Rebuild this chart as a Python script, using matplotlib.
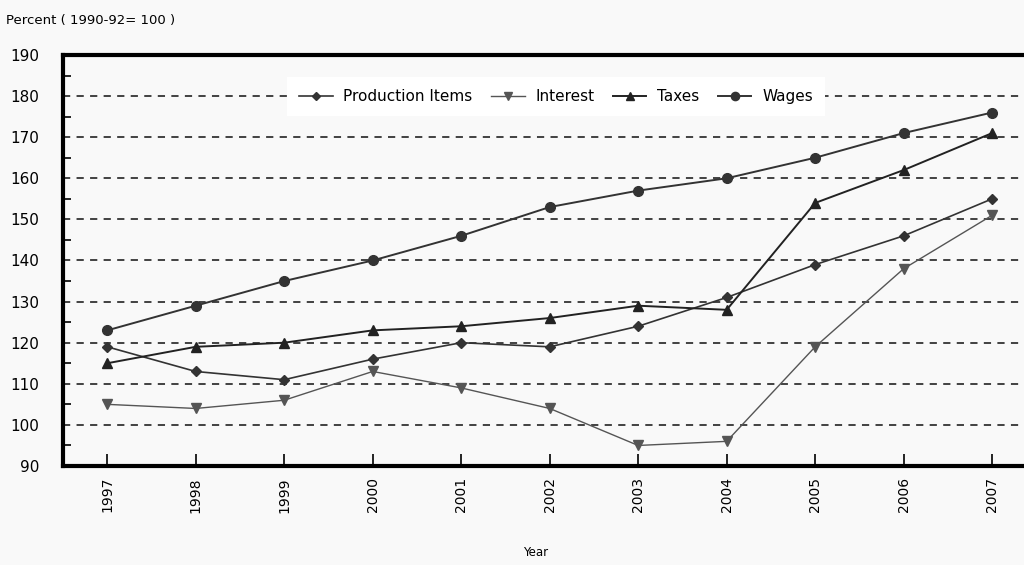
import matplotlib
matplotlib.use("Agg")
import matplotlib.pyplot as plt
from matplotlib.ticker import MultipleLocator

years = [1997, 1998, 1999, 2000, 2001, 2002, 2003, 2004, 2005, 2006, 2007]
production = [119, 113, 111, 116, 120, 119, 124, 131, 139, 146, 155]
interest = [105, 104, 106, 113, 109, 104, 95, 96, 119, 138, 151]
taxes = [115, 119, 120, 123, 124, 126, 129, 128, 154, 162, 171]
wages = [123, 129, 135, 140, 146, 153, 157, 160, 165, 171, 176]

bg = '#f9f9f9'
fig = plt.figure(figsize=(10.24, 5.65), dpi=100, facecolor=bg)
ax = fig.add_axes([0.0615, 0.1752, 0.9385, 0.7275], facecolor=bg)

ax.plot(years, production, color='#333333', lw=1.2, marker='D', ms=5, label='Production Items')
ax.plot(years, interest, color='#555555', lw=1.0, marker='v', ms=7, label='Interest')
ax.plot(years, taxes, color='#222222', lw=1.4, marker='^', ms=7, label='Taxes')
ax.plot(years, wages, color='#333333', lw=1.4, marker='o', ms=7, label='Wages')

ax.set_xlim(1996.5, 2007.36)
ax.set_ylim(90, 190)
ax.set_xticks(years)
ax.set_xticklabels([str(y) for y in years], rotation=90, fontsize=10)
ax.yaxis.set_major_locator(MultipleLocator(10))
ax.yaxis.set_minor_locator(MultipleLocator(5))
ax.tick_params(axis='y', which='major', direction='in', length=0, labelsize=11, pad=17)
ax.tick_params(axis='y', which='minor', direction='in', length=6, width=1.2)
ax.tick_params(axis='x', direction='in', length=9, width=1.2, pad=8)
for y in range(100, 190, 10):
    ax.axhline(y, color='#333333', lw=1.3, ls=(0, (4, 3.5)), zorder=0)
for s in ['left', 'bottom', 'top']:
    ax.spines[s].set_linewidth(3)
ax.spines['right'].set_visible(False)

leg = ax.legend(loc='upper center', bbox_to_anchor=(0.513, 0.965), ncol=4, frameon=True,
                fancybox=False, edgecolor='white', facecolor='white', framealpha=1,
                fontsize=11, handlelength=2.2, columnspacing=1.2, handletextpad=0.7,
                borderpad=0.8, markerscale=0.85)
leg.get_frame().set_linewidth(0)

fig.text(0.006, 0.963, 'Percent ( 1990-92= 100 )', fontsize=9.5, ha='left', va='center')
fig.text(0.523, 0.023, 'Year', fontsize=8.5, ha='center', va='center')

fig.savefig('out.png', dpi=100, facecolor=bg)
